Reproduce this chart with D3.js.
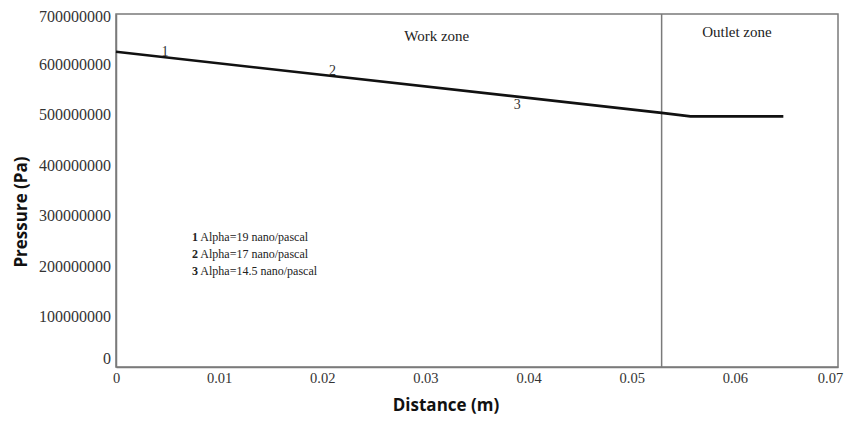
<!DOCTYPE html>
<html>
<head>
<meta charset="utf-8">
<script src="https://cdn.jsdelivr.net/npm/d3@7"></script>
<style>
  html, body { margin: 0; padding: 0; background: #fff; }
  svg { display: block; }
</style>
</head>
<body>
<svg id="chart" width="846" height="425"></svg>
<script>
// ---- data ----
const distance = [0, 0.0529, 0.0557, 0.0647];
const pressure = [625000000, 504000000, 497000000, 497000000];
const xTicks = [0, 0.01, 0.02, 0.03, 0.04, 0.05, 0.06, 0.07];
const yTicks = [0, 100000000, 200000000, 300000000, 400000000, 500000000, 600000000, 700000000];
const zoneBoundary = 0.0529;
const zoneLabels = [
  { text: "Work zone", x: 0.0311, y: 646000000 },
  { text: "Outlet zone", x: 0.0602, y: 654000000 }
];
const pointLabels = [
  { text: "1", x: 0.00475, y: 616000000 },
  { text: "2", x: 0.0210, y: 580000000 },
  { text: "3", x: 0.0389, y: 511000000 }
];
const legendLines = [
  { num: "1", text: " Alpha=19 nano/pascal" },
  { num: "2", text: " Alpha=17 nano/pascal" },
  { num: "3", text: " Alpha=14.5 nano/pascal" }
];

(function () {
// ---- layout ----
const svg = d3.select("#chart");
const mLeft = 116, mRight = 838, mTop = 14, mBottom = 367;
const x = d3.scaleLinear().domain([0, 0.07]).range([mLeft, mRight]);
const y = d3.scaleLinear().domain([0, 700000000]).range([mBottom, mTop]);
const frameColor = "#7a7a7a";
const serif = "'Liberation Serif', 'Times New Roman', serif";
const sans = "'Open Sans', 'Noto Sans', sans-serif";

// frame
svg.append("rect")
  .attr("x", mLeft).attr("y", mTop)
  .attr("width", mRight - mLeft).attr("height", mBottom - mTop)
  .attr("fill", "none").attr("stroke", frameColor).attr("stroke-width", 1.5);

// axes
const xAxis = d3.axisBottom(x).tickValues(xTicks).tickSize(0).tickPadding(6)
  .tickFormat(d => d === 0 ? "0" : d3.format(".2f")(d));
const gx = svg.append("g").attr("transform", `translate(0,${mBottom})`).call(xAxis);
gx.select(".domain").attr("stroke", frameColor).attr("stroke-width", 1.5);
gx.selectAll("text").attr("font-family", serif).attr("font-size", 14.5).attr("fill", "#333");
gx.selectAll(".tick").filter(d => d === 0.07).select("text").attr("dx", -8);

const yAxis = d3.axisLeft(y).tickValues(yTicks).tickSize(0).tickPadding(5)
  .tickFormat(d3.format("d"));
const gy = svg.append("g").attr("transform", `translate(${mLeft},0)`).call(yAxis);
gy.select(".domain").attr("stroke", frameColor).attr("stroke-width", 1.5);
gy.selectAll("text").attr("font-family", serif).attr("font-size", 16).attr("fill", "#333");
gy.selectAll(".tick").filter(d => d === 0).select("text").attr("dy", "-0.2em");
gy.selectAll(".tick").filter(d => d === 700000000).select("text").attr("dy", "0.45em");

// zone boundary
svg.append("line")
  .attr("x1", x(zoneBoundary)).attr("x2", x(zoneBoundary))
  .attr("y1", mTop).attr("y2", mBottom)
  .attr("stroke", frameColor).attr("stroke-width", 1.5);

// pressure line
const pts = distance.map((d, i) => [d, pressure[i]]);
svg.append("path")
  .datum(pts)
  .attr("fill", "none").attr("stroke", "#111").attr("stroke-width", 2.6)
  .attr("d", d3.line().x(d => x(d[0])).y(d => y(d[1])));

// point labels
svg.selectAll("text.pl").data(pointLabels).enter().append("text")
  .attr("class", "pl")
  .attr("x", d => x(d.x)).attr("y", d => y(d.y))
  .attr("text-anchor", "middle")
  .attr("font-family", serif).attr("font-size", 14).attr("fill", "#333")
  .text(d => d.text);

// zone labels
svg.selectAll("text.zl").data(zoneLabels).enter().append("text")
  .attr("class", "zl")
  .attr("x", d => x(d.x)).attr("y", d => y(d.y))
  .attr("text-anchor", "middle")
  .attr("font-family", serif).attr("font-size", 15).attr("fill", "#222")
  .text(d => d.text);

// legend text
const leg = svg.append("g").attr("transform", "translate(192,241)");
legendLines.forEach((l, i) => {
  const t = leg.append("text").attr("x", 0).attr("y", i * 17)
    .attr("font-family", serif).attr("font-size", 12).attr("fill", "#222");
  t.append("tspan").attr("font-weight", "bold").text(l.num);
  t.append("tspan").text(l.text);
});

// axis titles
svg.append("text")
  .attr("transform", `translate(27,212) rotate(-90)`)
  .attr("text-anchor", "middle")
  .attr("font-family", sans).attr("font-weight", "bold").attr("font-size", 17)
  .attr("fill", "#111")
  .text("Pressure (Pa)");

svg.append("text")
  .attr("x", 446).attr("y", 411)
  .attr("text-anchor", "middle")
  .attr("font-family", sans).attr("font-weight", "bold").attr("font-size", 17)
  .attr("fill", "#111")
  .text("Distance (m)");
})();
</script>
</body>
</html>
